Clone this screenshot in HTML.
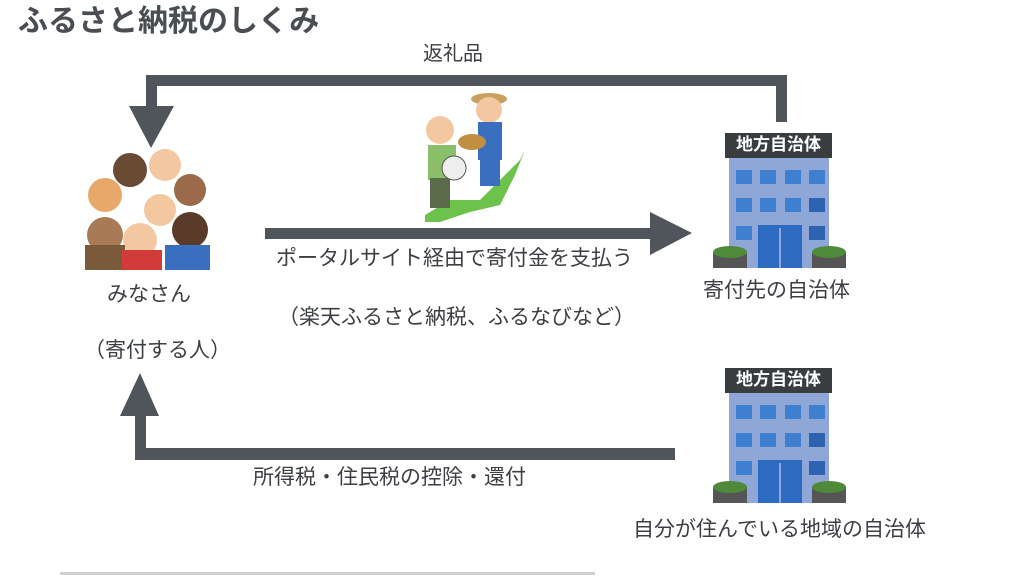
<!DOCTYPE html>
<html><head><meta charset="utf-8"><style>
html,body{margin:0;padding:0;background:#fff;}
body{width:1024px;height:576px;overflow:hidden;position:relative;font-family:"Liberation Sans","Noto Sans CJK JP",sans-serif;}
.t{position:absolute;color:#3c3f44;font-size:21px;white-space:nowrap;line-height:1.3;}
</style></head><body>
<svg width="1024" height="576" style="position:absolute;left:0;top:0">
<g fill="#50555b">
<rect x="776" y="75" width="11" height="47"/>
<rect x="146" y="75" width="641" height="11"/>
<rect x="146" y="75" width="11" height="40"/>
<polygon points="129,106 174,106 151,148"/>
<rect x="265" y="228" width="390" height="11"/>
<polygon points="650,212 650,255 692,233"/>
<rect x="135" y="448" width="540" height="12"/>
<rect x="135" y="410" width="11" height="50"/>
<polygon points="120,416 159,416 140,373"/>
</g>
<g id="b1">
<rect x="725" y="133" width="107" height="25" fill="#3a3d40"/>
<rect x="729" y="158" width="100" height="110" fill="#8ea7d6"/>
<g fill="#3f7fd0">
<rect x="736" y="170" width="16" height="14"/><rect x="760" y="170" width="16" height="14"/><rect x="785" y="170" width="16" height="14"/><rect x="809" y="170" width="16" height="14"/>
<rect x="736" y="198" width="16" height="14"/><rect x="760" y="198" width="16" height="14"/><rect x="785" y="198" width="16" height="14"/><rect x="809" y="198" width="16" height="14" fill="#2d63b0"/>
<rect x="736" y="226" width="16" height="14"/><rect x="809" y="226" width="16" height="14" fill="#2d63b0"/>
</g>
<rect x="758" y="225" width="44" height="43" fill="#2d6bc0"/>
<rect x="779" y="228" width="2" height="40" fill="#8ea7d6"/>
<rect x="713" y="252" width="34" height="16" fill="#555"/><ellipse cx="730" cy="252" rx="17" ry="6" fill="#4f8a3a"/>
<rect x="812" y="252" width="34" height="16" fill="#555"/><ellipse cx="829" cy="252" rx="17" ry="6" fill="#4f8a3a"/>
</g>
<use href="#b1" x="0" y="235"/>
<g>
<circle cx="105" cy="195" r="17" fill="#e8a86a"/><circle cx="130" cy="170" r="17" fill="#6b4a33"/><circle cx="165" cy="165" r="16" fill="#f3c8a0"/><circle cx="190" cy="190" r="16" fill="#9a6a4a"/>
<circle cx="160" cy="210" r="16" fill="#f3c8a0"/><circle cx="105" cy="235" r="18" fill="#a87a55"/><circle cx="140" cy="240" r="17" fill="#f3c8a0"/><circle cx="190" cy="230" r="18" fill="#5a3a28"/>
<rect x="85" y="245" width="40" height="25" fill="#7a5a3a"/><rect x="122" y="250" width="40" height="20" fill="#d33a3a"/><rect x="165" y="245" width="45" height="25" fill="#3a6fc0"/>
</g>
<g>
<path d="M425,215 L450,200 L480,200 L500,180 L520,160 L525,150 L515,175 L500,205 L470,212 L440,222 L425,222 Z" fill="#6cc24a"/>
<circle cx="440" cy="130" r="14" fill="#f3c8a0"/><rect x="428" y="145" width="28" height="35" fill="#8bbf6a"/><rect x="430" y="178" width="20" height="30" fill="#5a6b4a"/>
<circle cx="454" cy="168" r="12" fill="#eee" stroke="#555"/>
<ellipse cx="489" cy="99" rx="18" ry="6" fill="#c9a060"/><circle cx="489" cy="110" r="13" fill="#f3c8a0"/>
<rect x="478" y="122" width="24" height="38" fill="#3a6fc0"/><rect x="480" y="158" width="20" height="28" fill="#3a6fc0"/>
<ellipse cx="472" cy="142" rx="14" ry="8" fill="#c09040"/>
</g>
<rect x="60" y="572" width="535" height="3" fill="#cfd0d2"/>
</svg>
<div class="t" style="left:18px;top:2px;font-size:30px;font-weight:bold;color:#4a4d52">ふるさと納税のしくみ</div>
<div class="t" style="left:423px;top:41px;font-size:20px">返礼品</div>
<div class="t" style="left:725px;top:134px;width:107px;text-align:center;font-size:17px;color:#fff;font-weight:bold;">地方自治体</div>
<div class="t" style="left:725px;top:369px;width:107px;text-align:center;font-size:17px;color:#fff;font-weight:bold;">地方自治体</div>
<div class="t" style="left:276px;top:245px">ポータルサイト経由で寄付金を支払う</div>
<div class="t" style="left:278px;top:304px">（楽天ふるさと納税、ふるなびなど）</div>
<div class="t" style="left:107px;top:281px">みなさん</div>
<div class="t" style="left:84px;top:337px">（寄付する人）</div>
<div class="t" style="left:703px;top:277px">寄付先の自治体</div>
<div class="t" style="left:253px;top:464px">所得税・住民税の控除・還付</div>
<div class="t" style="left:633px;top:516px">自分が住んでいる地域の自治体</div>
</body></html>
